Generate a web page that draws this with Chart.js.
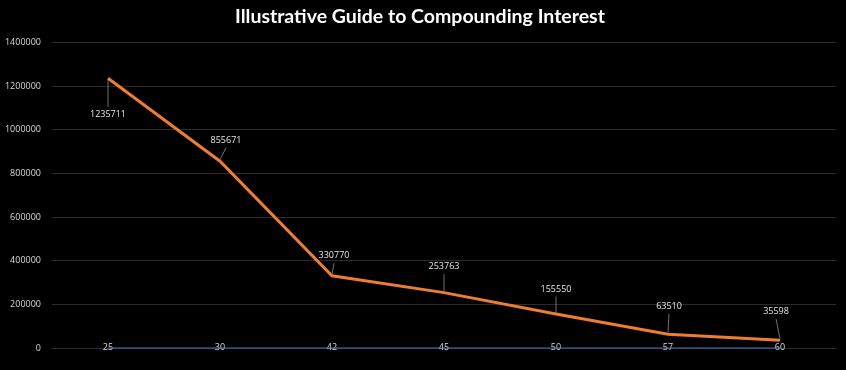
<!DOCTYPE html>
<html>
<head>
<meta charset="utf-8">
<script src="https://cdn.jsdelivr.net/npm/chart.js@4.4.1/dist/chart.umd.min.js"></script>
<style>
  html, body { margin: 0; padding: 0; background: #000; }
  #wrap { width: 846px; height: 370px; position: relative; }
</style>
</head>
<body>
<div id="wrap"><canvas id="c" width="846" height="370"></canvas></div>
<script>
// ---- data ----
const categories = ["25", "30", "42", "45", "50", "57", "60"];
const balances = [1235711, 855671, 330770, 253763, 155550, 63510, 35598];
const baseline = [0, 0, 0, 0, 0, 0, 0];
const yTickMax = 1400000;
const yTickStep = 200000;

// label offsets (style only): [dx, dy] from the point
const labelOffsets = [[0, 36], [6, -21], [2, -20], [0, -26], [0, -25], [1, -28], [-4, -29]];

const calloutPlugin = {
  id: 'callouts',
  afterLayout(chart) {
    // let x tick labels straddle the axis line without being clipped
    chart.scales.x._computeLabelArea = () => undefined;
  },
  afterDatasetsDraw(chart) {
    const meta = chart.getDatasetMeta(0);
    const ctx = chart.ctx;
    ctx.save();
    ctx.font = '9px "Open Sans"';
    ctx.textAlign = 'center';
    ctx.textBaseline = 'middle';
    meta.data.forEach((pt, i) => {
      const [dx, dy] = labelOffsets[i];
      const lx = pt.x + dx, ly = pt.y + dy;
      const dir = dy > 0 ? 1 : -1;
      ctx.strokeStyle = '#8c8c8c';
      ctx.lineWidth = 0.8;
      ctx.beginPath();
      ctx.moveTo(pt.x, pt.y + dir * 1.5);
      ctx.lineTo(lx, ly - dir * 7.5);
      ctx.stroke();
      ctx.fillStyle = '#e6e6e6';
      ctx.fillText(String(balances[i]), lx, ly);
    });
    ctx.restore();
  }
};

new Chart(document.getElementById('c'), {
  type: 'line',
  data: {
    labels: categories,
    datasets: [
      {
        label: 'Balance',
        data: balances,
        borderColor: '#ED7D31',
        backgroundColor: '#ED7D31',
        borderWidth: 3,
        pointRadius: 0,
        tension: 0,
        clip: 6,
        order: 0
      },
      {
        label: 'Base',
        data: baseline,
        borderColor: '#4472C4',
        borderWidth: 1.2,
        pointRadius: 0,
        tension: 0,
        clip: 6,
        order: 1
      }
    ]
  },
  options: {
    responsive: false,
    animation: false,
    layout: { padding: { left: 4, right: 10, top: 0, bottom: 22 } },
    plugins: {
      legend: { display: false },
      tooltip: { enabled: false },
      title: {
        display: true,
        text: 'Illustrative Guide to Compounding Interest',
        color: '#ffffff',
        font: { family: 'Lato', size: 19.5, weight: 'bold' },
        padding: { top: 5, bottom: 14 }
      }
    },
    scales: {
      x: {
        offset: true,
        z: 1,
        grid: { display: false, drawTicks: false },
        border: { display: false },
        afterFit: s => { s.height = 0; },
        ticks: {
          color: '#d9d9d9',
          font: { family: 'Open Sans', size: 9 },
          padding: -6,
          maxRotation: 0
        }
      },
      y: {
        min: 0,
        max: yTickMax,
        grid: { color: '#2b2b2b', lineWidth: 1, drawTicks: false },
        border: { display: false },
        afterFit: s => { s.width = 48; },
        ticks: {
          stepSize: yTickStep,
          color: '#d9d9d9',
          font: { family: 'Open Sans', size: 9 },
          padding: 11,
          callback: v => String(v)
        }
      }
    }
  },
  plugins: [calloutPlugin]
});
</script>
</body>
</html>
